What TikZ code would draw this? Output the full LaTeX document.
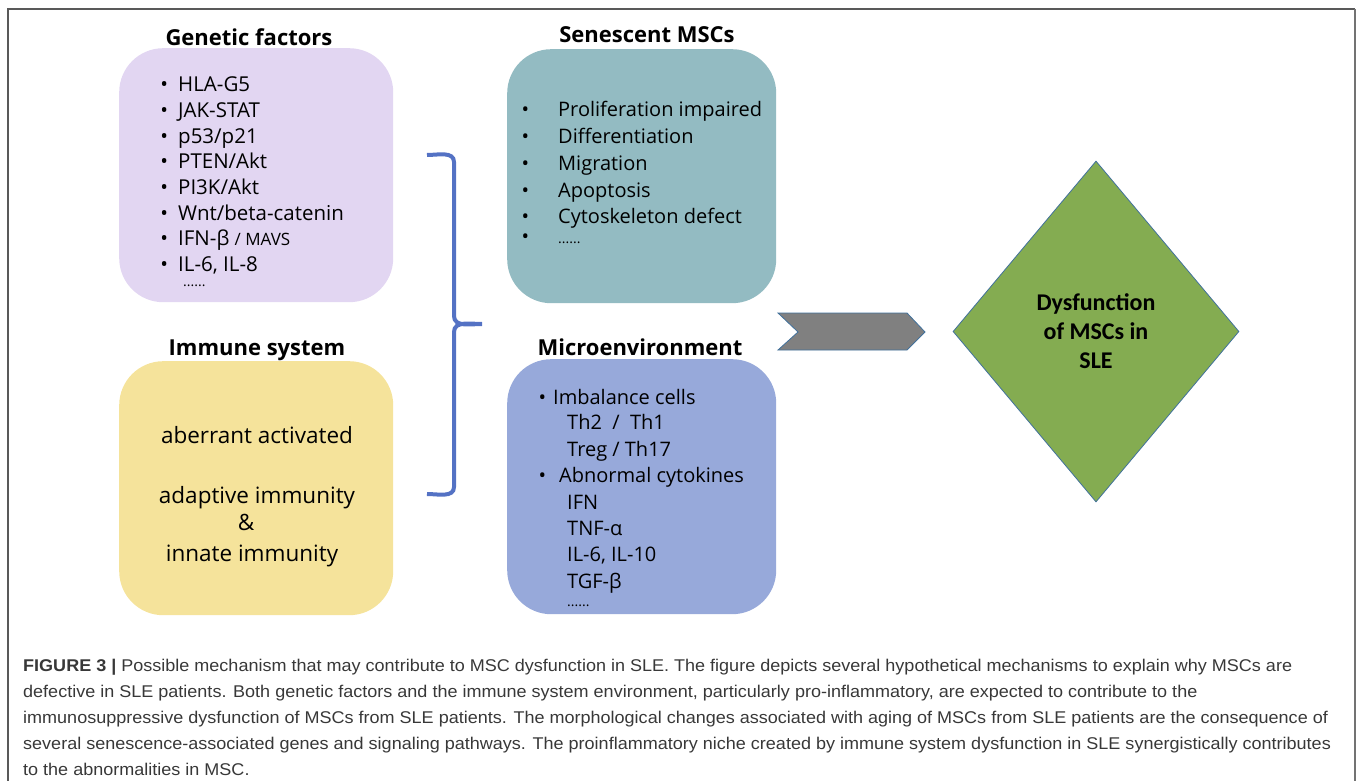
\documentclass[tikz,border=0pt]{standalone}
\usepackage{fontspec}
\setmainfont{Open Sans}
\newfontfamily\capfont[FakeStretch=1.06]{Liberation Sans}
\newfontfamily\dmdfont{Carlito}
\usetikzlibrary{shapes.geometric}

\definecolor{lavender}{HTML}{E2D6F2}
\definecolor{tealbox}{HTML}{93BBC2}
\definecolor{yellowbox}{HTML}{F5E39B}
\definecolor{bluebox}{HTML}{97A9DA}
\definecolor{bracecol}{HTML}{5472C4}
\definecolor{edgecol}{HTML}{41719C}
\definecolor{greendmd}{HTML}{84AC51}
\definecolor{capgray}{HTML}{383838}

\tikzset{
  panel/.style={rounded corners=44pt, minimum width=274pt, minimum height=254pt, inner sep=0pt, anchor=north west},
  title/.style={anchor=base, inner sep=0pt, font=\fontsize{22}{22}\selectfont\bfseries},
  gitem/.style={anchor=base west, inner sep=0pt, font=\fontsize{20.5}{20.5}\selectfont},
  sitem/.style={anchor=base west, inner sep=0pt, font=\fontsize{20}{20}\selectfont},
  iitem/.style={anchor=base, inner sep=0pt, font=\fontsize{22.5}{22.5}\selectfont},
  capline/.style={anchor=base west, inner sep=0pt, text=capgray, font=\capfont\fontsize{17}{17}\selectfont}
}

\begin{document}
\begin{tikzpicture}[x=1pt, y=-1pt]
\useasboundingbox (0,0) rectangle (1358,781);
% frame
\draw[black!65, line width=1.2pt] (8,781) -- (8,9) -- (1355,9);
\draw[black!55, line width=2pt] (1355,9) -- (1355,781);

% genetic factors
\node[panel, fill=lavender] (gen) at (119,48) {};
\node[title] (gentitle) at (249,46) {Genetic factors};
\foreach \t [count=\i] in {HLA-G5, JAK-STAT, p53/p21, PTEN/Akt, PI3K/Akt, Wnt/beta-catenin, {IFN-β {\fontsize{17}{17}\selectfont/ MAVS}}, {IL-6, IL-8}}
  \node[gitem] (g\i) at (178, 92+25.6*\i-25.6) {\llap{\textbullet\hspace{10pt}}\t};
\node[gitem] (gdots) at (183,286) {\fontsize{14}{14}\selectfont ......};

% senescent MSCs
\node[panel, fill=tealbox, minimum width=269pt] (sen) at (507,49) {};
\node[title] (sentitle) at (647,43) {Senescent MSCs};
\foreach \t [count=\i] in {Proliferation impaired, Differentiation, Migration, Apoptosis, Cytoskeleton defect}
  \node[sitem] (s\i) at (558, 117+26.7*\i-26.7) {\llap{\textbullet\hspace{29pt}}\t};
\node[sitem] (sdots) at (558,243) {\llap{\textbullet\hspace{29pt}}\fontsize{14}{14}\selectfont ......};

% immune system
\node[panel, fill=yellowbox] (imm) at (119,361) {};
\node[title] (immtitle) at (257,355) {Immune system};
\node[iitem] (i1) at (257,443) {aberrant activated};
\node[iitem] (i2) at (257,503) {adaptive immunity};
\node[iitem] (i3) at (246,530) {\&};
\node[iitem] (i4) at (252,561) {innate immunity};

% microenvironment
\node[panel, fill=bluebox, minimum width=269pt, minimum height=255pt] (mic) at (507,359) {};
\node[title] (mictitle) at (640,355) {Microenvironment};
\node[sitem] (m1) at (553,404) {\llap{\textbullet\hspace{7pt}}Imbalance cells};
\node[sitem] (m2) at (567,429) {Th2 ~/~ Th1};
\node[sitem] (m3) at (567,456) {Treg / Th17};
\node[sitem] (m4) at (559,482) {\llap{\textbullet\hspace{13pt}}Abnormal cytokines};
\node[sitem] (m5) at (567,509) {IFN};
\node[sitem] (m6) at (567,535) {TNF-α};
\node[sitem] (m7) at (567,561) {IL-6, IL-10};
\node[sitem] (m8) at (567,588) {TGF-β};
\node[sitem] (mdots) at (567,606) {\fontsize{14}{14}\selectfont ......};

% brace
\draw[bracecol, line width=4pt] (427,155) to[out=0, in=90] (454,162) -- (454,316)
  to[out=-90, in=180] (482,324) to[out=180, in=90] (454,332) -- (454,487)
  to[out=-90, in=0] (427,494);

% arrow
\draw[edgecol, fill=black!50, line width=0.8pt] (778,313) -- (907,313) -- (925,332)
  -- (907,350) -- (778,350) -- (798,332) -- cycle;

% result
\node[diamond, draw=edgecol, fill=greendmd, line width=0.8pt, minimum width=286pt,
  minimum height=341pt, aspect=0.84, inner sep=0pt] (dys) at (1096,331.5) {};
\node[align=center, font=\dmdfont\bfseries\fontsize{24}{29}\selectfont, anchor=base] (dystext)
  at (1096,368) {Dysfunction\\of MSCs in\\SLE};

% caption
\node[capline] (c1) at (23,671) {\textbf{FIGURE 3 |} Possible mechanism that may contribute to MSC dysfunction in SLE. The figure depicts several hypothetical mechanisms to explain why MSCs are};
\node[capline] (c2) at (23,697) {defective in SLE patients. Both genetic factors and the immune system environment, particularly pro-inflammatory, are expected to contribute to the};
\node[capline] (c3) at (23,723) {immunosuppressive dysfunction of MSCs from SLE patients. The morphological changes associated with aging of MSCs from SLE patients are the consequence of};
\node[capline] (c4) at (23,749) {several senescence-associated genes and signaling pathways. The proinflammatory niche created by immune system dysfunction in SLE synergistically contributes};
\node[capline] (c5) at (23,775) {to the abnormalities in MSC.};
\end{tikzpicture}
\end{document}
